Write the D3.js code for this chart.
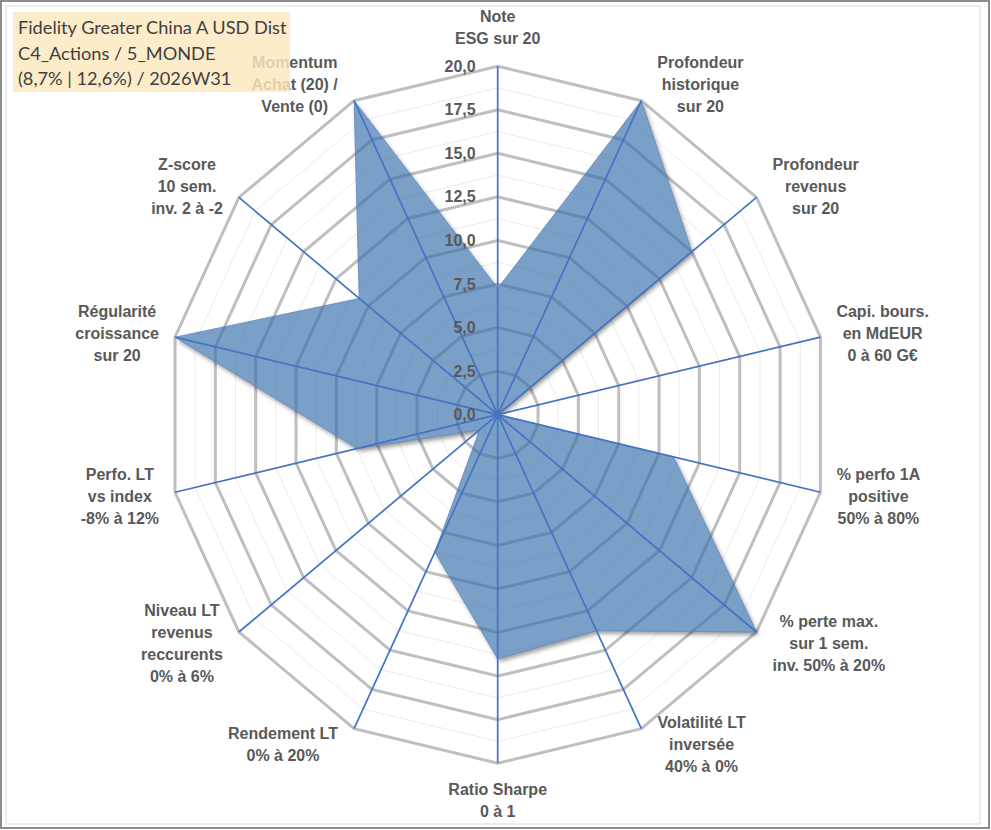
<!DOCTYPE html>
<html>
<head>
<meta charset="utf-8">
<script src="https://cdn.jsdelivr.net/npm/d3@7"></script>
<style>
  body { margin: 0; background: #fff; }
  svg { display: block; }
</style>
</head>
<body>
<svg id="chart"></svg>
<script>
// axes of the radar, clockwise from the top
var categories = [
  ["Note", "ESG sur 20"],
  ["Profondeur", "historique", "sur 20"],
  ["Profondeur", "revenus", "sur 20"],
  ["Capi. bours.", "en MdEUR", "0 à 60 G€"],
  ["% perfo 1A", "positive", "50% à 80%"],
  ["% perte max.", "sur 1 sem.", "inv. 50% à 20%"],
  ["Volatilité LT", "inversée", "40% à 0%"],
  ["Ratio Sharpe", "0 à 1"],
  ["Rendement LT", "0% à 20%"],
  ["Niveau LT", "revenus", "reccurents", "0% à 6%"],
  ["Perfo. LT", "vs index", "-8% à 12%"],
  ["Régularité", "croissance", "sur 20"],
  ["Z-score", "10 sem.", "inv. 2 à -2"],
  ["Momentum", "Achat (20) /", "Vente (0)"]
]
var scores = [7.25, 20, 15, 0, 10.9, 20, 13.75, 14, 8.75, 1.4, 8.7, 20, 10.7, 20]
var ticks = [0, 2.5, 5, 7.5, 10, 12.5, 15, 17.5, 20]
var minorTicks = [1.25, 3.75, 6.25, 8.75, 11.25, 13.75, 16.25, 18.75]
var titleLines = ["Fidelity Greater China A USD Dist", "C4_Actions / 5_MONDE", "(8,7% | 12,6%) / 2026W31"]

var screen = {width: 991, height: 830}
var cx = 497.7, cy = 414.7

var svg = d3.select("#chart")
  .attr("width", screen.width)
  .attr("height", screen.height)

// the plot is a little squeezed horizontally, so two radial scales
var xr = d3.scaleLinear().domain([0, 20]).range([0, 331])
var yr = d3.scaleLinear().domain([0, 20]).range([0, 348.5])
var angle = d3.scaleLinear().domain([0, categories.length]).range([0, 2 * Math.PI])

var px = function (i, v) { return cx + Math.sin(angle(i)) * xr(v) }
var py = function (i, v) { return cy - Math.cos(angle(i)) * yr(v) }
var ring = function (v) {
  return categories.map(function (c, i) { return [px(i, v), py(i, v)] })
}
var line = d3.line().curve(d3.curveLinearClosed)
var seriesPath = line(scores.map(function (v, i) { return [px(i, v), py(i, v)] }))

var defs = svg.append("defs")
defs.append("filter").attr("id", "blur")
  .attr("x", "-10%").attr("y", "-10%").attr("width", "120%").attr("height", "120%")
  .append("feGaussianBlur").attr("stdDeviation", 2)
// shadow only outside the shape, the fill is see-through
var mask = defs.append("mask").attr("id", "outside")
  .attr("maskUnits", "userSpaceOnUse")
  .attr("x", 0).attr("y", 0).attr("width", screen.width).attr("height", screen.height)
mask.append("rect").attr("width", screen.width).attr("height", screen.height).attr("fill", "#fff")
mask.append("path").attr("d", seriesPath).attr("fill", "#000")

// chart frame
svg.append("rect").attr("x", 1).attr("y", 1).attr("width", 988).attr("height", 827)
  .attr("fill", "#fff").attr("stroke", "#8c8c8c").attr("stroke-width", 2)
svg.append("rect").attr("x", 6).attr("y", 6).attr("width", 974).attr("height", 818)
  .attr("fill", "none").attr("stroke", "#d9d9d9").attr("stroke-width", 1)

// grid
svg.append("g").selectAll("path")
  .data(minorTicks)
  .enter()
  .append("path")
  .attr("d", function (v) { return line(ring(v)) })
  .attr("fill", "none")
  .attr("stroke", "#ebebeb")
  .attr("stroke-width", 1)

svg.append("g").selectAll("path")
  .data(ticks.filter(function (t) { return t > 0 }))
  .enter()
  .append("path")
  .attr("d", function (v) { return line(ring(v)) })
  .attr("fill", "none")
  .attr("stroke", "#bfbfbf")
  .attr("stroke-width", 3)

// series
svg.append("g").attr("mask", "url(#outside)")
  .append("path")
  .attr("d", seriesPath)
  .attr("transform", "translate(2,3)")
  .attr("fill", "#000")
  .attr("fill-opacity", 0.4)
  .attr("filter", "url(#blur)")

svg.append("path")
  .attr("d", seriesPath)
  .attr("fill", "rgb(52,109,171)")
  .attr("fill-opacity", 0.65)
  .attr("stroke", "#5b86c0")
  .attr("stroke-width", 0.8)

// spokes
svg.append("g").selectAll("line")
  .data(categories)
  .enter()
  .append("line")
  .attr("x1", cx).attr("y1", cy)
  .attr("x2", function (c, i) { return px(i, 20) })
  .attr("y2", function (c, i) { return py(i, 20) })
  .attr("stroke", "#4472c4")
  .attr("stroke-width", 1.7)
svg.append("circle").attr("cx", cx).attr("cy", cy).attr("r", 3).attr("fill", "#4472c4")

// value axis labels
svg.append("g").selectAll("text")
  .data(ticks)
  .enter()
  .append("text")
  .attr("x", cx - 22)
  .attr("y", function (v) { return py(0, v) })
  .attr("dy", "0.35em")
  .attr("text-anchor", "end")
  .attr("font-family", "Liberation Sans, Arial, sans-serif")
  .attr("font-weight", "bold")
  .attr("font-size", 16)
  .attr("fill", "#595959")
  .text(function (v) { return d3.format(".1f")(v).replace(".", ",") })

// category labels, placed next to the outer vertex
var lh = 22
var labels = svg.append("g").selectAll("text")
  .data(categories)
  .enter()
  .append("text")
  .attr("text-anchor", "middle")
  .attr("font-family", "Liberation Sans, Arial, sans-serif")
  .attr("font-weight", "bold")
  .attr("font-size", 16)
  .attr("fill", "#595959")

labels.each(function (lines, i) {
  var t = d3.select(this)
  lines.forEach(function (s, k) {
    t.append("tspan").attr("x", 0).attr("y", k * lh).attr("dominant-baseline", "central").text(s)
  })
  var w = this.getBBox().width
  var h = lines.length * lh
  var s = Math.sin(angle(i)), c = Math.cos(angle(i))
  var lx = px(i, 20), ly = py(i, 20)
  if (Math.abs(s) < 0.01) {
    ly = ly + (c > 0 ? -(h / 2 + 17) : (h / 2 + 15))
  } else {
    lx = lx + (s > 0 ? 1 : -1) * (w / 2 + 16)
    ly = ly - c * 18
  }
  t.attr("transform", "translate(" + lx + "," + (ly - h / 2 + lh / 2) + ")")
})

// title box
var tb = svg.append("g")
tb.append("rect").attr("x", 13).attr("y", 12).attr("width", 277).attr("height", 80)
  .attr("fill", "rgb(253,232,190)").attr("fill-opacity", 0.82)
tb.selectAll("text")
  .data(titleLines)
  .enter()
  .append("text")
  .attr("x", 18)
  .attr("y", function (d, i) { return 27 + i * 25.5 })
  .attr("dominant-baseline", "central")
  .attr("font-family", "Lato, sans-serif")
  .attr("font-size", 18.2)
  .attr("fill", "#404040")
  .text(function (d) { return d })
</script>
</body>
</html>
